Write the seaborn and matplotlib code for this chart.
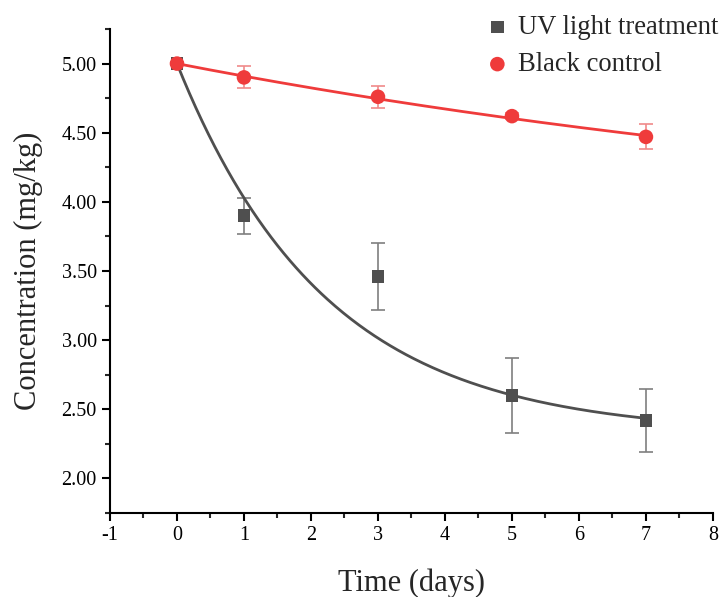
import numpy as np
import pandas as pd
import seaborn as sns
import matplotlib.pyplot as plt
from matplotlib.ticker import MultipleLocator, FormatStrFormatter

days = [0, 1, 3, 5, 7]
uv_conc = [5.00, 3.90, 3.46, 2.60, 2.42]
uv_err = [0.01, 0.13, 0.24, 0.27, 0.23]
ctrl_conc = [5.00, 4.90, 4.76, 4.62, 4.47]
ctrl_err = [0.01, 0.08, 0.08, 0.02, 0.09]

# exponential decay fits y = y0 + A*exp(-k*t), parameters
uv_fit = dict(y0=2.32, A=2.68, k=0.45)
ctrl_fit = dict(y0=3.656, A=1.344, k=0.07)

uv_label = "UV light treatment"
ctrl_label = "Black control"
uv_color = "#4f4f4f"
ctrl_color = "#ef3b3b"

sns.set_theme(style="ticks")
plt.rcParams['font.family'] = ['Liberation Serif', 'DejaVu Serif']
plt.rcParams['axes.unicode_minus'] = False

fig = plt.figure(figsize=(7.26, 5.97), dpi=100)
ax = fig.add_axes([0.1515, 0.1407, 0.8305, 0.8107])

t = np.linspace(0, 7, 300)
fits = pd.DataFrame({
    "t": t,
    "uv": uv_fit["y0"] + uv_fit["A"] * np.exp(-uv_fit["k"] * t),
    "ctrl": ctrl_fit["y0"] + ctrl_fit["A"] * np.exp(-ctrl_fit["k"] * t),
})

sns.lineplot(data=fits, x="t", y="uv", color=uv_color, lw=2.0, ax=ax, zorder=2)
sns.lineplot(data=fits, x="t", y="ctrl", color=ctrl_color, lw=2.0, ax=ax, zorder=4)

ax.errorbar(days, uv_conc, yerr=uv_err, fmt='none', ecolor="#7f7f7f",
            elinewidth=1.2, capsize=5, capthick=1.2, zorder=1)
ax.errorbar(days, ctrl_conc, yerr=ctrl_err, fmt='none', ecolor="#f08a8a",
            elinewidth=1.2, capsize=5, capthick=1.2, zorder=3)

sns.scatterplot(x=days, y=uv_conc, marker='s', s=80, color=uv_color,
                edgecolor='none', ax=ax, zorder=3, label=uv_label)
sns.scatterplot(x=days, y=ctrl_conc, marker='o', s=110, color=ctrl_color,
                edgecolor='none', ax=ax, zorder=5, label=ctrl_label)

ax.set_xlim(-1, 8)
ax.set_ylim(1.75, 5.25)
ax.xaxis.set_major_locator(MultipleLocator(1))
ax.xaxis.set_minor_locator(MultipleLocator(0.5))
ax.yaxis.set_major_locator(MultipleLocator(0.5))
ax.yaxis.set_minor_locator(MultipleLocator(0.25))
ax.yaxis.set_major_formatter(FormatStrFormatter('%.2f'))
ax.set_yticks([2.0, 2.5, 3.0, 3.5, 4.0, 4.5, 5.0])
ax.set_xticks(range(-1, 9))

ax.tick_params(which='major', length=6, width=1.5, labelsize=14.5, colors='black')
ax.tick_params(which='minor', length=3.5, width=1.5)
for side in ['left', 'bottom']:
    ax.spines[side].set_linewidth(1.5)
    ax.spines[side].set_color('black')
sns.despine(ax=ax)

ax.set_xlabel("Time (days)", fontsize=22, labelpad=17)
ax.set_ylabel("Concentration (mg/kg)", fontsize=22, labelpad=13)

ax.get_legend().remove()
handles, labels = ax.get_legend_handles_labels()
fig.legend(handles, labels, loc='upper left', bbox_to_anchor=(0.652, 0.997),
           frameon=False, fontsize=19.2, handlelength=0.8, handletextpad=0.38,
           borderpad=0, labelspacing=0.45, markerscale=1.0)

fig.savefig("out.png", dpi=100)
